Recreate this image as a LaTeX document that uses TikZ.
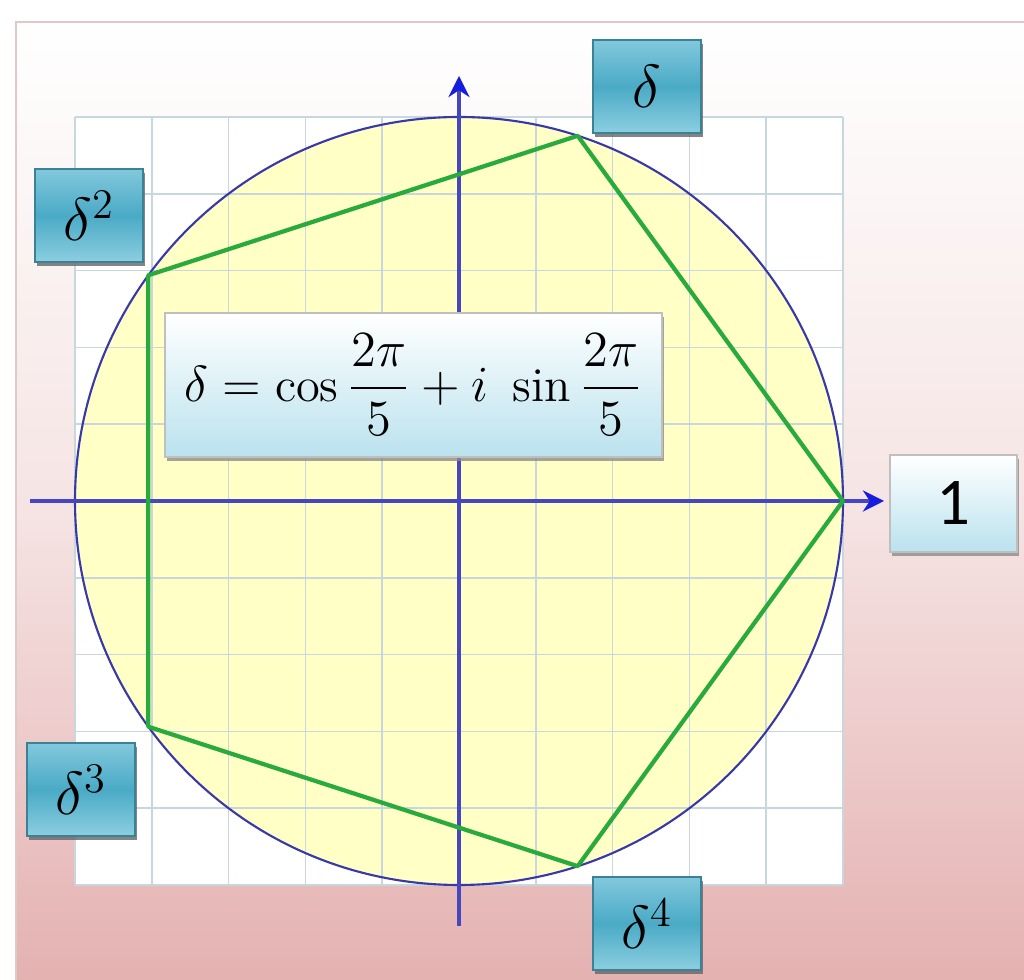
\documentclass[tikz,border=0pt]{standalone}
\usepackage{amsmath}
\usepackage{fontspec}
\newfontfamily\numfont{Carlito}
\usetikzlibrary{shadows,arrows.meta}
\definecolor{bgpink}{RGB}{228,176,176}
\definecolor{bgmid}{RGB}{246,228,228}
\definecolor{framec}{RGB}{222,200,200}
\definecolor{gridc}{RGB}{200,214,222}
\definecolor{yel}{RGB}{255,255,198}
\definecolor{circc}{RGB}{56,56,170}
\definecolor{axisc}{RGB}{70,70,190}
\definecolor{arrowc}{RGB}{20,30,220}
\definecolor{pentc}{RGB}{40,170,60}
\definecolor{tealtop}{RGB}{130,200,220}
\definecolor{tealmid}{RGB}{74,170,198}
\definecolor{tealbot}{RGB}{140,206,224}
\definecolor{tealedge}{RGB}{60,130,150}
\definecolor{lblue}{RGB}{186,226,238}
\tikzset{
  tealbox/.style={draw=tealedge, line width=0.4pt, top color=tealtop, bottom color=tealbot, middle color=tealmid,
    minimum width=1.08cm, minimum height=0.93cm, inner sep=0pt,
    drop shadow={shadow xshift=0.6pt, shadow yshift=-1.2pt, fill=black!60, opacity=0.8},
    font=\fontsize{18}{20}\selectfont},
  lightbox/.style={draw=gray!50, line width=0.4pt, top color=white, bottom color=lblue,
    inner sep=0pt, drop shadow={shadow xshift=0.6pt, shadow yshift=-1.2pt, fill=black!45, opacity=0.8}},
  gridline/.style={draw=gridc, line width=0.45pt},
  axis/.style={draw=axisc, line width=0.9pt, -{Stealth[length=6pt,width=6pt,color=arrowc]}},
  pent/.style={draw=pentc, line width=1.2pt, line join=round}
}
\begin{document}
\begin{tikzpicture}[x=0.01cm,y=-0.01cm]
\useasboundingbox (0,0) rectangle (1024,980);
% background
\fill[white] (0,0) rectangle (1024,980);
\shade[top color=white, bottom color=bgpink, middle color=bgmid, shading angle=0] (16,22) rectangle (1030,990);
\draw[framec, line width=0.6pt] (1030,22) -- (16,22) -- (16,990);
% grid area
\fill[white] (75,117) rectangle (843,885);
\fill[yel] (459,501) circle (384);
\foreach \k in {0,...,10} {
  \draw[gridline] (75+76.8*\k,117) -- (75+76.8*\k,885);
  \draw[gridline] (75,117+76.8*\k) -- (843,117+76.8*\k);
}
\draw[circc, line width=0.6pt] (459,501) circle (384);
% axes
\coordinate (xl) at (30,501);
\coordinate (xr) at (884,501);
\coordinate (yb) at (459,926);
\coordinate (yt) at (459,76);
\draw[axis] (xl) -- (xr);
\draw[axis] (yb) -- (yt);
% pentagon
\coordinate (p0) at (843,501);
\coordinate (p1) at (577.7,135.8);
\coordinate (p2) at (148.3,275.3);
\coordinate (p3) at (148.3,726.7);
\coordinate (p4) at (577.7,866.2);
\draw[pent] (p0) -- (p1) -- (p2) -- (p3) -- (p4) -- cycle;
% formula
\node[lightbox, minimum width=4.97cm, minimum height=1.44cm] (f) at (413.5,385)
  {\fontsize{13.8}{17}\selectfont $\delta = \cos\dfrac{2\pi}{5} + i\ \sin\dfrac{2\pi}{5}$};
% labels
\node[tealbox] (d1) at (647,86.5) {$\delta$};
\node[tealbox] (d2) at (89,215.5) {$\delta^2$};
\node[tealbox] (d3) at (81,789.5) {$\delta^3$};
\node[tealbox] (d4) at (647,923.5) {$\delta^4$};
\node[lightbox, minimum width=1.27cm, minimum height=0.97cm, font=\numfont\fontsize{19}{22}\selectfont] (one) at (953.5,503.5) {1};
\end{tikzpicture}
\end{document}
